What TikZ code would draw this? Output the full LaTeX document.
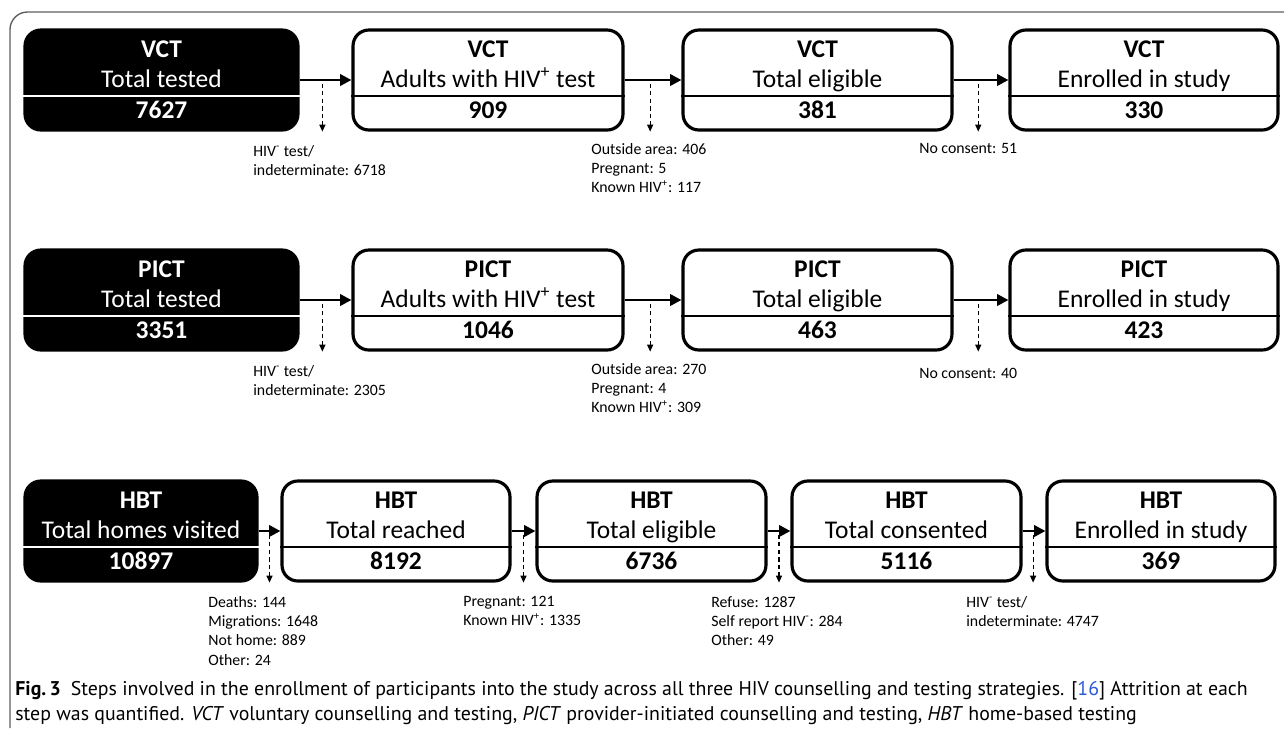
\documentclass[tikz,border=0pt]{standalone}
\usepackage{fontspec}
\setmainfont{Carlito}
\newfontfamily\capfont{PT Sans}
\usetikzlibrary{arrows.meta}
\definecolor{CF}{RGB}{95, 95, 95}
\definecolor{CR}{RGB}{40, 90, 215}

% one stage box: name, dark/light, centre, width, title, subtitle, count
\newcommand{\stage}[7]{%
  \node[#2box, minimum width=#4] (#1) at (#3) {};
  \draw[#2ink, divider] ([yshift=-0.32cm]#1.west) -- ([yshift=-0.32cm]#1.east);
  \node[#2ink, stagefont, anchor=base] (#1-a) at ([yshift=0.46cm]#1.center) {\bfseries #5};
  \node[#2ink, stagefont, anchor=base] (#1-b) at ([yshift=-0.14cm]#1.center) {#6};
  \node[#2ink, stagefont, anchor=base] (#1-c) at ([yshift=-0.76cm]#1.center) {\bfseries #7};
}

\begin{document}
\begin{tikzpicture}[x=0.02cm, y=-0.02cm,
    darkbox/.style={draw=black, fill=black, line width=1.8pt, rounded corners=9pt, minimum height=2cm, inner sep=0pt},
    lightbox/.style={draw=black, fill=white, line width=1.8pt, rounded corners=9pt, minimum height=2cm, inner sep=0pt},
    darkink/.style={white},
    lightink/.style={black},
    divider/.style={line width=0.9pt},
    stagefont/.style={font=\fontsize{14.5}{16}\selectfont},
    flow/.style={line width=1.5pt, -{Triangle[length=6.5pt, width=6.5pt]}},
    drop/.style={line width=0.6pt, dash pattern=on 2.5pt off 1.8pt, -{Triangle[length=4pt, width=3.5pt]}},
    loss/.style={anchor=north west, inner sep=0pt, align=left, font=\fontsize{9}{11}\selectfont}]
  \useasboundingbox (0,0) rectangle (1284,728);
  \draw[CF, line width=0.8pt, rounded corners=10pt] (1284,12) -- (10,12) -- (10,728);

  % VCT
  \stage{v1}{dark}{161.5,80}{5.46cm}{VCT}{Total tested}{7627}
  \stage{v2}{light}{488,80}{5.4cm}{VCT}{Adults with HIV\textsuperscript{+} test}{909}
  \stage{v3}{light}{817.5,80}{5.38cm}{VCT}{Total eligible}{381}
  \stage{v4}{light}{1144,80}{5.36cm}{VCT}{Enrolled in study}{330}
  \draw[flow] (v1.east) -- coordinate[pos=0.44] (v12) (v2.west);
  \draw[flow] (v2.east) -- coordinate[pos=0.45] (v23) (v3.west);
  \draw[flow] (v3.east) -- coordinate[pos=0.45] (v34) (v4.west);
  \draw[drop] ([yshift=-2pt]v12) -- (v12 |- v1.south);
  \draw[drop] ([yshift=-2pt]v23) -- (v23 |- v2.south);
  \draw[drop] ([yshift=-2pt]v34) -- (v34 |- v3.south);
  \node[loss] (v12-out) at (253,145) {HIV\textsuperscript{-} test/\\indeterminate: 6718};
  \node[loss] (v23-out) at (591,143) {Outside area: 406\\Pregnant: 5\\Known HIV\textsuperscript{+}: 117};
  \node[loss] (v34-out) at (919,143) {No consent: 51};

  % PICT
  \stage{p1}{dark}{161.5,300}{5.46cm}{PICT}{Total tested}{3351}
  \stage{p2}{light}{488,300}{5.4cm}{PICT}{Adults with HIV\textsuperscript{+} test}{1046}
  \stage{p3}{light}{817.5,300}{5.38cm}{PICT}{Total eligible}{463}
  \stage{p4}{light}{1144,300}{5.36cm}{PICT}{Enrolled in study}{423}
  \draw[flow] (p1.east) -- coordinate[pos=0.44] (p12) (p2.west);
  \draw[flow] (p2.east) -- coordinate[pos=0.45] (p23) (p3.west);
  \draw[flow] (p3.east) -- coordinate[pos=0.45] (p34) (p4.west);
  \draw[drop] ([yshift=-2pt]p12) -- (p12 |- p1.south);
  \draw[drop] ([yshift=-2pt]p23) -- (p23 |- p2.south);
  \draw[drop] ([yshift=-2pt]p34) -- (p34 |- p3.south);
  \node[loss] (p12-out) at (253,365) {HIV\textsuperscript{-} test/\\indeterminate: 2305};
  \node[loss] (p23-out) at (591,363) {Outside area: 270\\Pregnant: 4\\Known HIV\textsuperscript{+}: 309};
  \node[loss] (p34-out) at (919,368) {No consent: 40};

  % HBT
  \stage{h1}{dark}{141,531}{4.64cm}{HBT}{Total homes visited}{10897}
  \stage{h2}{light}{396,531}{4.56cm}{HBT}{Total reached}{8192}
  \stage{h3}{light}{651.5,531}{4.58cm}{HBT}{Total eligible}{6736}
  \stage{h4}{light}{906.5,531}{4.58cm}{HBT}{Total consented}{5116}
  \stage{h5}{light}{1161,531}{4.56cm}{HBT}{Enrolled in study}{369}
  \draw[flow] (h1.east) -- coordinate[pos=0.5] (h12) (h2.west);
  \draw[flow] (h2.east) -- coordinate[pos=0.5] (h23) (h3.west);
  \draw[flow] (h3.east) -- coordinate[pos=0.5] (h34) (h4.west);
  \draw[flow] (h4.east) -- coordinate[pos=0.46] (h45) (h5.west);
  \draw[drop] ([yshift=-2pt]h12) -- (h12 |- h1.south);
  \draw[drop] ([yshift=-2pt]h23) -- (h23 |- h2.south);
  \draw[drop] ([yshift=-2pt]h34) -- (h34 |- h3.south);
  \draw[drop] ([yshift=-2pt]h45) -- (h45 |- h4.south);
  \node[loss] (h12-out) at (208,596) {Deaths: 144\\Migrations: 1648\\Not home: 889\\Other: 24};
  \node[loss] (h23-out) at (463,596) {Pregnant: 121\\Known HIV\textsuperscript{+}: 1335};
  \node[loss] (h34-out) at (711,596) {Refuse: 1287\\Self report HIV\textsuperscript{-}: 284\\Other: 49};
  \node[loss] (h45-out) at (966,596) {HIV\textsuperscript{-} test/\\indeterminate: 4747};

  % caption
  \node[anchor=base west, inner sep=0pt, align=left, font=\capfont\fontsize{11.3}{13.7}\selectfont] (cap) at (15,720)
    {\textbf{Fig.\,3}\enspace Steps involved in the enrollment of participants into the study across all three HIV counselling and testing strategies. [{\color{CR}16}] Attrition at each\\
     step was quantified. \textit{VCT} voluntary counselling and testing, \textit{PICT} provider-initiated counselling and testing, \textit{HBT} home-based testing};
\end{tikzpicture}
\end{document}
